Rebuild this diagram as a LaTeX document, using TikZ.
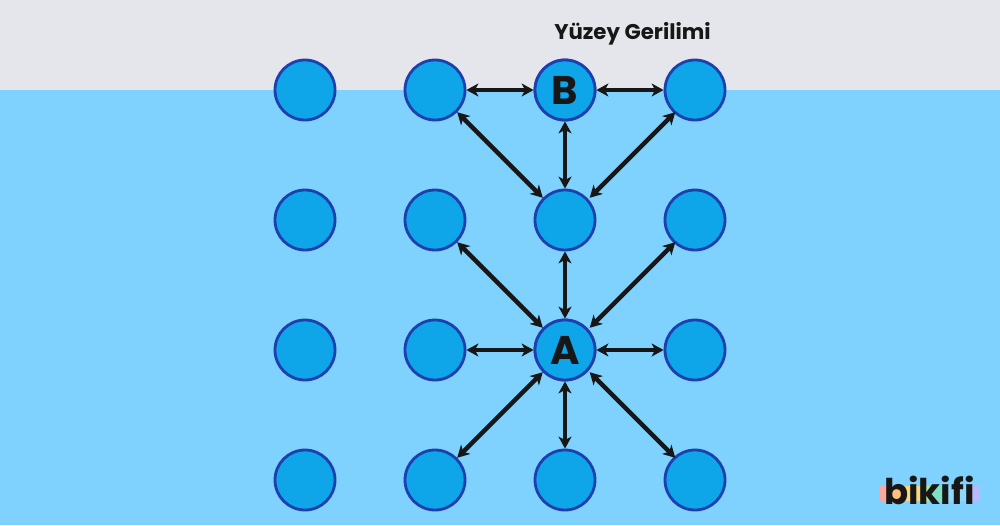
\documentclass[tikz,border=0pt]{standalone}
\usepackage{fontspec}
\setmainfont{Poppins}
\usetikzlibrary{arrows.meta}
\definecolor{sky}{HTML}{7FD1FE}
\definecolor{air}{HTML}{E4E6EB}
\definecolor{ball}{HTML}{0EA5E9}
\definecolor{rim}{HTML}{1E3FAE}
\definecolor{ink}{HTML}{171717}
\tikzset{
  x=1pt,y=-1pt,
  mol/.style={circle,draw=rim,fill=ball,line width=2.8pt,minimum size=60pt,inner sep=0pt,outer sep=1.4pt,text=ink,font=\bfseries\fontsize{40}{40}\selectfont},
  force/.style={ink,line width=4.3pt,{Stealth[length=12pt,width=13pt,inset=3.5pt]}-{Stealth[length=12pt,width=13pt,inset=3.5pt]}},
  forceR/.style={force,transform canvas={xshift=2.5pt}}
}
\begin{document}
\begin{tikzpicture}
\useasboundingbox (0,0) rectangle (1000,525);
\fill[air] (0,0) rectangle (1000,90);
\fill[sky] (0,90) rectangle (1000,525);
\foreach \c/\x in {1/305,2/435,3/565,4/695}{
  \foreach \r/\y in {1/90,2/220,3/350,4/480}{
    \node[mol] (n\c\r) at (\x,\y) {};
  }
}
\node[mol] (B) at (565,90) {B};
\node[mol] (A) at (565,350) {A};
\draw[force] (n21) -- (B);
\draw[force] (B) -- (n41);
\draw[force] (B) -- (n32);
\draw[force] (n21) -- (n32);
\draw[forceR] (n41) -- (n32);
\draw[force] (n32) -- (A);
\draw[force] (n22) -- (A);
\draw[forceR] (n42) -- (A);
\draw[force] (n23) -- (A);
\draw[force] (n43) -- (A);
\draw[force] (n24) -- (A);
\draw[force] (n34) -- (A);
\draw[forceR] (n44) -- (A);
\node[text=ink,font=\bfseries\fontsize{21.3}{21.3}\selectfont] (title) at (632.5,33.5) {Yüzey Gerilimi};
\foreach \col/\x/\w in {FBA8A0/880/12,FDBE7E/892/14,FBD67C/906/14,B5E68E/920/10,7FE0C4/930/15,8ED8F8/945/25,B9B8FA/970/10}{
  \definecolor{bandc}{HTML}{\col}
  \fill[bandc] (\x,486) rectangle +(\w,15);
}
\node[text=ink,font=\bfseries\fontsize{35.5}{35.5}\selectfont] (logo) at (929.5,490) {bikif{}i};
\end{tikzpicture}
\end{document}
